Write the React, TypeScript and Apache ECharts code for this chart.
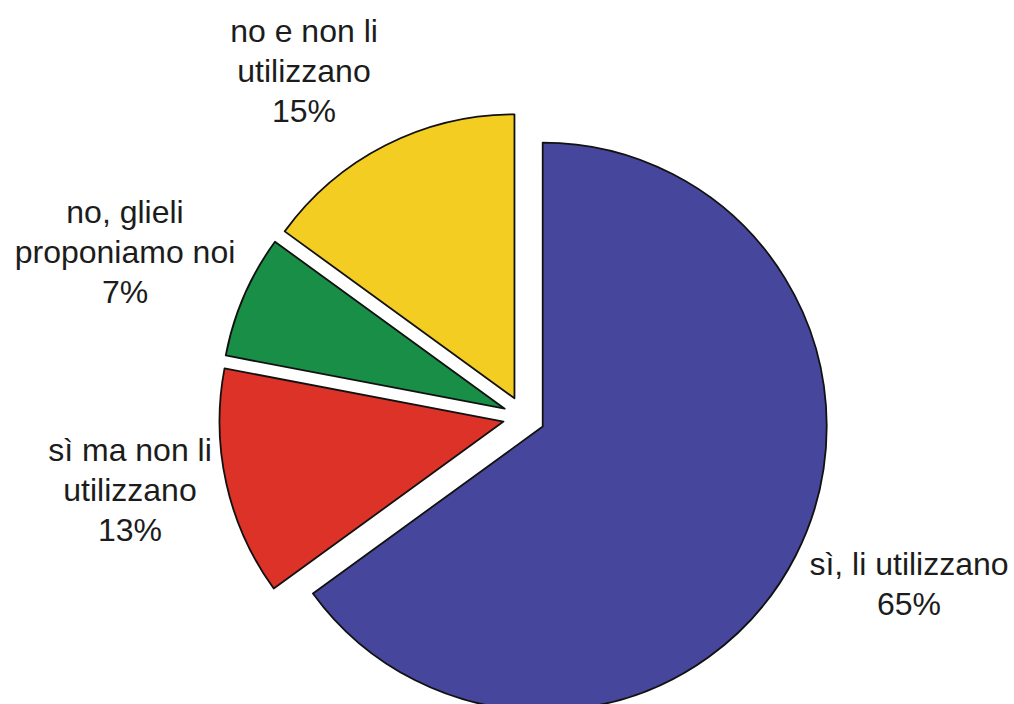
import React, { useEffect, useRef } from "react";
import * as echarts from "echarts";

const categories = [
  "sì, li utilizzano",
  "sì ma non li\nutilizzano",
  "no, glieli\nproponiamo noi",
  "no e non li\nutilizzano",
];
const values = [65, 13, 7, 15];
const colors = ["#46469c", "#dd3228", "#188e47", "#f4cd22"];
// label anchor points (layout only)
const labelAnchors = [
  [909, 584],
  [130, 490],
  [125, 252],
  [304, 71],
];

const CX = 524;
const CY = 417;
const R = 284;
const EXPLODE = 21;

export default function App() {
  const ref = useRef<HTMLDivElement>(null);
  useEffect(() => {
    if (!ref.current) return;
    const chart = echarts.init(ref.current, undefined, { renderer: "svg" });
    const total = values.reduce((a, b) => a + b, 0);
    let cum = 0;
    const series = values.map((v, i) => {
      const mid = ((cum + v / 2) / total) * Math.PI * 2;
      cum += v;
      const cx = CX + EXPLODE * Math.sin(mid);
      const cy = CY - EXPLODE * Math.cos(mid);
      return {
        type: "pie",
        center: [cx, cy],
        radius: R,
        startAngle: 90,
        clockwise: true,
        silent: true,
        avoidLabelOverlap: false,
        labelLine: { show: false },
        labelLayout: (params: any) => {
          if (params.dataIndex !== i) return {};
          const a = labelAnchors[i];
          return { x: a[0], y: a[1], align: "center", verticalAlign: "middle" };
        },
        data: categories.map((name, j) => ({
          name,
          value: values[j],
          itemStyle:
            j === i
              ? { color: colors[j], borderColor: "#111111", borderWidth: 1.8 }
              : { color: "rgba(0,0,0,0)", borderWidth: 0 },
          label: {
            show: j === i,
            position: "outside",
            formatter: (p: any) => `${p.name}\n${p.value}%`,
            fontFamily: "Liberation Sans, Arial, sans-serif",
            fontSize: 32,
            lineHeight: 40,
            color: "#1c1c1c",
            align: "center",
          },
        })),
      };
    });
    chart.setOption({
      animation: false,
      backgroundColor: "#ffffff",
      series,
    });
    return () => chart.dispose();
  }, []);
  return (
    <div
      ref={ref}
      style={{ position: "fixed", left: 0, top: 0, width: 1014, height: 704 }}
    />
  );
}
